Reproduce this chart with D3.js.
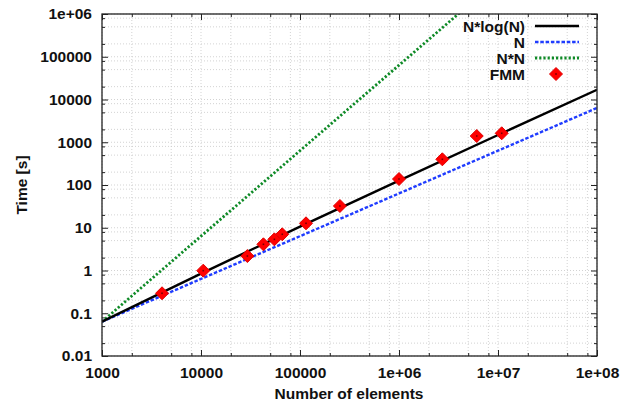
<!DOCTYPE html>
<html>
<head>
<meta charset="utf-8">
<script src="https://cdn.jsdelivr.net/npm/d3@7"></script>
<style>
  html, body { margin: 0; padding: 0; background: #fff; }
  svg text { font-family: "Liberation Sans", Arial, Helvetica, sans-serif; font-weight: bold; fill: #111; }
</style>
</head>
<body>
<svg id="chart" width="632" height="410"></svg>
<script>
// Model curves, sampled at each decade of N
const modelN = [1e3, 1e4, 1e5, 1e6, 1e7, 1e8];
const nlognTime = [0.0635, 0.847, 10.6, 127, 1480, 16900];
const linearTime = [0.0635, 0.635, 6.35, 63.5, 635, 6350];
const quadN = [1e3, 1e4, 1e5, 1e6, 1e7];
const quadTime = [0.0635, 6.35, 635, 63500, 6350000];

// Measured FMM timings
const fmmN = [4040, 10540, 29400, 42700, 55100, 66200, 115000, 253000, 1000000, 2740000, 6100000, 10900000];
const fmmTime = [0.293, 0.99, 2.18, 4.1, 5.36, 7.03, 12.7, 32.3, 138, 399, 1400, 1620];

// Axis ticks
const xMajor = [1e3, 1e4, 1e5, 1e6, 1e7, 1e8];
const xLabels = ["1000", "10000", "100000", "1e+06", "1e+07", "1e+08"];
const yMajor = [0.01, 0.1, 1, 10, 100, 1000, 10000, 100000, 1e6];
const yLabels = ["0.01", "0.1", "1", "10", "100", "1000", "10000", "100000", "1e+06"];
const minorMult = [2, 5, 8];

const legendNames = ["N*log(N)", "N", "N*N", "FMM"];

const svg = d3.select("#chart");
const L = 102, R = 597, T = 14, B = 356;
const FS = 15.5;

const x = d3.scaleLog().domain([1e3, 1e8]).range([L, R]);
const y = d3.scaleLog().domain([0.01, 1e6]).range([B, T]);

const minors = (majors) => majors.slice(0, -1).flatMap(m => minorMult.map(k => m * k));
const xMinor = minors(xMajor);
const yMinor = minors(yMajor);

// Grid
const grid = svg.append("g").attr("stroke", "#c8c8c8").attr("stroke-width", 0.8)
  .attr("stroke-dasharray", "1,2");
grid.selectAll(".gx").data(xMajor.concat(xMinor)).join("line")
  .attr("x1", d => x(d)).attr("x2", d => x(d)).attr("y1", T).attr("y2", B);
grid.selectAll(".gy").data(yMajor.concat(yMinor)).join("line")
  .attr("y1", d => y(d)).attr("y2", d => y(d)).attr("x1", L).attr("x2", R);

// Axes (ticks inward, mirrored on top/right)
const fmtX = d => xLabels[xMajor.indexOf(d)];
const fmtY = d => yLabels[yMajor.findIndex(v => Math.abs(v - d) / v < 1e-6)];

function styleAxis(g) {
  g.select(".domain").remove();
  g.selectAll("line").attr("stroke", "#222").attr("stroke-width", 1);
  g.selectAll("text").attr("font-size", FS).attr("fill", "#111")
    .attr("font-family", "Liberation Sans, Arial, sans-serif").attr("font-weight", "bold");
}

svg.append("g").attr("transform", `translate(0,${B})`)
  .call(d3.axisBottom(x).tickValues(xMajor).tickFormat(fmtX).tickSize(-6).tickPadding(11))
  .call(styleAxis);
svg.append("g").attr("transform", `translate(0,${B})`)
  .call(d3.axisBottom(x).tickValues(xMinor).tickFormat("").tickSize(-3))
  .call(styleAxis);
svg.append("g").attr("transform", `translate(0,${T})`)
  .call(d3.axisTop(x).tickValues(xMajor).tickFormat("").tickSize(-6))
  .call(styleAxis);
svg.append("g").attr("transform", `translate(0,${T})`)
  .call(d3.axisTop(x).tickValues(xMinor).tickFormat("").tickSize(-3))
  .call(styleAxis);

svg.append("g").attr("transform", `translate(${L},0)`)
  .call(d3.axisLeft(y).tickValues(yMajor).tickFormat(fmtY).tickSize(-6).tickPadding(10))
  .call(styleAxis);
svg.append("g").attr("transform", `translate(${L},0)`)
  .call(d3.axisLeft(y).tickValues(yMinor).tickFormat("").tickSize(-3))
  .call(styleAxis);
svg.append("g").attr("transform", `translate(${R},0)`)
  .call(d3.axisRight(y).tickValues(yMajor).tickFormat("").tickSize(-6))
  .call(styleAxis);
svg.append("g").attr("transform", `translate(${R},0)`)
  .call(d3.axisRight(y).tickValues(yMinor).tickFormat("").tickSize(-3))
  .call(styleAxis);

// Curves
svg.append("clipPath").attr("id", "plotClip").append("rect")
  .attr("x", L).attr("y", T).attr("width", R - L).attr("height", B - T);
const line = d3.line().x(d => x(d[0])).y(d => y(d[1]));
const curves = svg.append("g").attr("clip-path", "url(#plotClip)").attr("fill", "none");

curves.append("path").datum(d3.zip(quadN, quadTime)).attr("d", line)
  .attr("stroke", "#0e8a26").attr("stroke-width", 2.8).attr("stroke-dasharray", "2.2,2");
curves.append("path").datum(d3.zip(modelN, linearTime)).attr("d", line)
  .attr("stroke", "#1f3cff").attr("stroke-width", 2.4).attr("stroke-dasharray", "3.5,1.8");
curves.append("path").datum(d3.zip(modelN, nlognTime)).attr("d", line)
  .attr("stroke", "#000").attr("stroke-width", 2.4);

// Plot frame
svg.append("rect").attr("x", L).attr("y", T).attr("width", R - L).attr("height", B - T)
  .attr("fill", "none").attr("stroke", "#222").attr("stroke-width", 1.3);

// FMM markers
function diamond(g, cx, cy) {
  const s = 6.5;
  g.append("path")
    .attr("d", `M${cx},${cy - s}L${cx + s},${cy}L${cx},${cy + s}L${cx - s},${cy}Z`)
    .attr("fill", "#f00").attr("stroke", "#e00000").attr("stroke-width", 1);
  g.append("rect").attr("x", cx - 0.8).attr("y", cy - 0.8).attr("width", 1.6).attr("height", 1.6)
    .attr("fill", "#700");
}
const marks = svg.append("g");
d3.zip(fmmN, fmmTime).forEach(([n, t]) => diamond(marks, x(n), y(t)));

// Legend
const lg = svg.append("g");
const rowY = [26, 42, 58, 74];
const lx0 = 535, lx1 = 579;
legendNames.forEach((name, i) => {
  lg.append("text").attr("x", 525).attr("y", rowY[i]).attr("dy", "0.36em")
    .attr("text-anchor", "end").attr("font-size", FS).text(name);
});
lg.append("line").attr("x1", lx0).attr("x2", lx1).attr("y1", rowY[0]).attr("y2", rowY[0])
  .attr("stroke", "#000").attr("stroke-width", 2.4);
lg.append("line").attr("x1", lx0).attr("x2", lx1).attr("y1", rowY[1]).attr("y2", rowY[1])
  .attr("stroke", "#1f3cff").attr("stroke-width", 2.4).attr("stroke-dasharray", "3.5,1.8");
lg.append("line").attr("x1", lx0).attr("x2", lx1).attr("y1", rowY[2]).attr("y2", rowY[2])
  .attr("stroke", "#0e8a26").attr("stroke-width", 2.8).attr("stroke-dasharray", "2.2,2");
diamond(lg, 556, rowY[3]);

// Axis titles
svg.append("text").attr("x", 349).attr("y", 399).attr("text-anchor", "middle")
  .attr("font-size", FS).text("Number of elements");
svg.append("text").attr("transform", "translate(26.5,185) rotate(-90)")
  .attr("text-anchor", "middle").attr("font-size", FS).text("Time [s]");
</script>
</body>
</html>
